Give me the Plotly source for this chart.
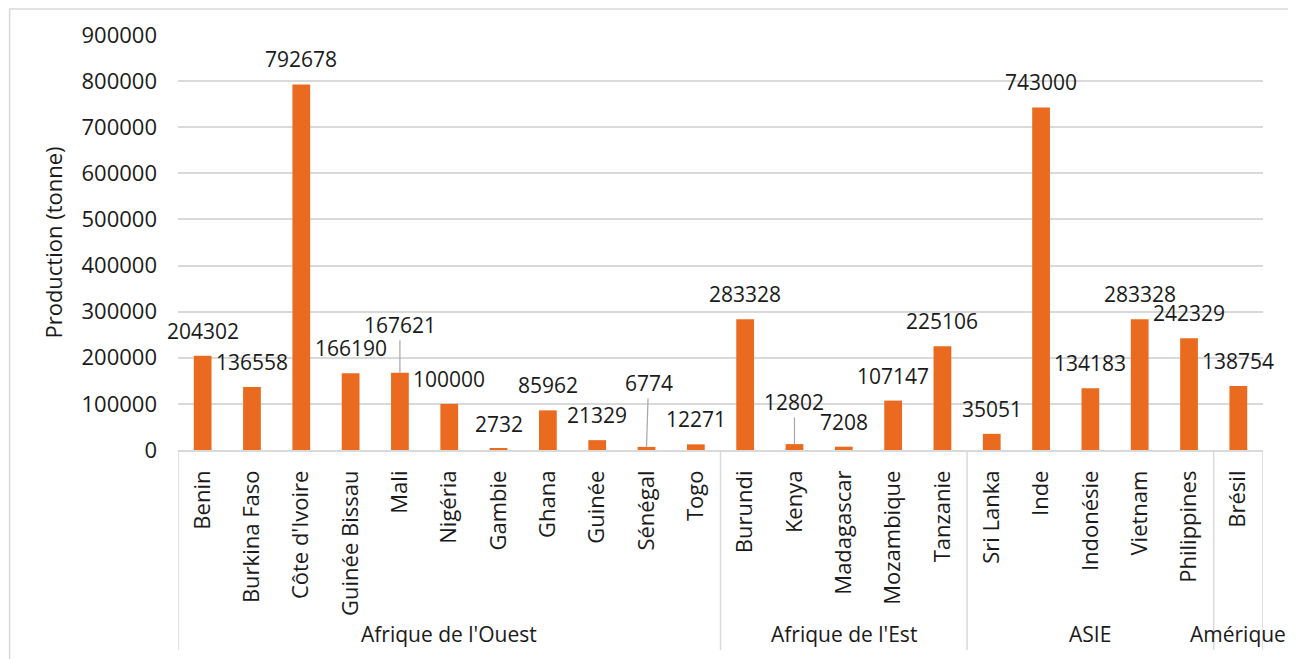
import plotly.graph_objects as go

regions = ["Afrique de l'Ouest", "Afrique de l'Est", "ASIE", "Amérique"]
region_counts = [11, 5, 5, 1]
countries = ["Benin", "Burkina Faso", "Côte d'Ivoire", "Guinée Bissau", "Mali", "Nigéria",
             "Gambie", "Ghana", "Guinée", "Sénégal", "Togo",
             "Burundi", "Kenya", "Madagascar", "Mozambique", "Tanzanie",
             "Sri Lanka", "Inde", "Indonésie", "Vietnam", "Philippines",
             "Brésil"]
production = [204302, 136558, 792678, 166190, 167621, 100000, 2732, 85962, 21329, 6774, 12271,
              283328, 12802, 7208, 107147, 225106,
              35051, 743000, 134183, 283328, 242329,
              138754]
y_ticks = [0, 100000, 200000, 300000, 400000, 500000, 600000, 700000, 800000, 900000]

# labels moved away from their bar (with a leader line), in pixels
moved_labels = {"Mali": (0, -48), "Sénégal": (2, -64), "Kenya": (0, -42)}

FONT = "Open Sans"
BAR = "#EA6B1F"
GRID = "#D9D9D9"
TXT = "#1a1a1a"
LBL = 21
TICK = 22

fig = go.Figure(go.Bar(x=countries, y=production, marker_color=BAR,
                       marker_line_width=0, hoverinfo="x+y"))

ann = []
for c, v in zip(countries, production):
    if c in moved_labels:
        ax, ay = moved_labels[c]
        ann.append(dict(x=c, y=v, xref="x", yref="y", text=str(v), showarrow=True,
                        ax=ax, ay=ay, arrowhead=0, arrowwidth=1.2, arrowcolor="#A6A6A6",
                        standoff=0, startstandoff=0,
                        font=dict(family=FONT, size=LBL, color=TXT)))
    else:
        ann.append(dict(x=c, y=v, xref="x", yref="y", text=str(v), showarrow=False,
                        yanchor="middle", yshift=25,
                        font=dict(family=FONT, size=LBL, color=TXT)))

shapes = []
start = 0
bounds = [-0.5]
for r, n in zip(regions, region_counts):
    center = start + (n - 1) / 2
    ann.append(dict(x=countries[start] if n == 1 else center, xref="x", y=-0.443, yref="paper",
                    text=r, showarrow=False, yanchor="middle",
                    font=dict(family=FONT, size=LBL, color=TXT)))
    start += n
    bounds.append(start - 0.5)
for b in bounds:
    shapes.append(dict(type="line", xref="x", yref="paper", x0=b, x1=b, y0=0, y1=-0.482,
                       line=dict(color=GRID, width=1.5)))
# outer chart border
shapes.append(dict(type="rect", xref="paper", yref="paper", x0=-0.1552, x1=1.0267,
                   y0=-0.53, y1=1.0627, line=dict(color=GRID, width=1.5)))

fig.update_layout(
    width=1288, height=651,
    margin=dict(l=170, r=33, t=27, b=209),
    paper_bgcolor="white", plot_bgcolor="white",
    bargap=0.64, showlegend=False,
    font=dict(family=FONT, size=TICK, color=TXT),
    annotations=ann, shapes=shapes,
    xaxis=dict(type="category", tickangle=-90, ticks="", showgrid=False,
               showline=True, linecolor=GRID, linewidth=1.5,
               tickfont=dict(family=FONT, size=TICK, color=TXT), ticklabelstandoff=10,
               range=[-0.5, len(countries) - 0.5]),
    yaxis=dict(range=[0, 900000], tickvals=y_ticks, ticktext=[str(t) for t in y_ticks],
               showgrid=True, gridcolor=GRID, gridwidth=1.5, zeroline=False,
               showline=False, ticks="", ticklabelstandoff=20,
               tickfont=dict(family=FONT, size=TICK, color=TXT),
               title=dict(text="Production (tonne)", standoff=12,
                          font=dict(family=FONT, size=TICK, color=TXT))),
)

fig.write_html("out.html")
